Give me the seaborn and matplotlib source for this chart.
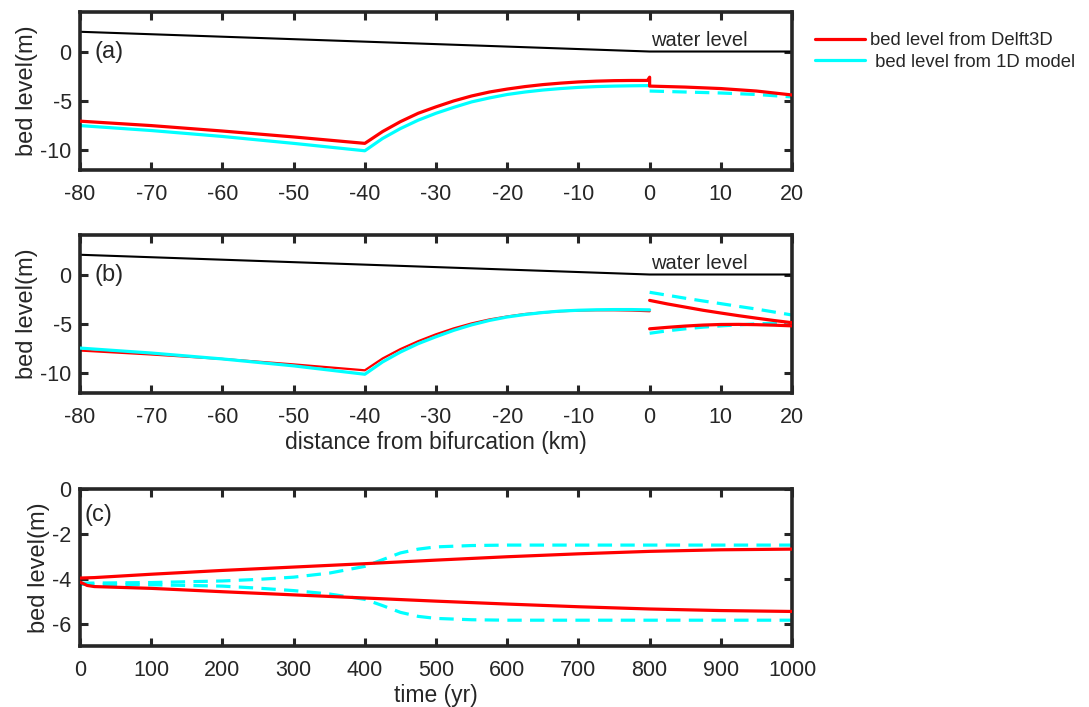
import matplotlib
matplotlib.use("Agg")
import matplotlib.pyplot as plt
import seaborn as sns
import numpy as np
import pandas as pd
from matplotlib.lines import Line2D

# ---------------- data ----------------
# water level (same in a and b)
wl_x = [-80, -60, -40, -20, 0, 10, 20]
wl_y = [2.0, 1.5, 1.0, 0.5, 0.0, 0.0, 0.0]

# panel (a) – Delft3D bed level (main channel + downstream branch with small kink at 0)
a_red_x = [-80, -70, -60, -50, -40, -37.5, -35, -32.5, -30, -27.5, -25, -22.5, -20,
           -17.5, -15, -12.5, -10, -7.5, -5, -2.5, -0.3, 0, 0, 5, 10, 15, 20]
a_red_y = [-7.05, -7.5, -8.05, -8.65, -9.3, -8.1, -7.1, -6.25, -5.6, -5.0, -4.5, -4.1, -3.8,
           -3.55, -3.35, -3.2, -3.08, -3.0, -2.95, -2.93, -2.93, -2.6, -3.5, -3.6, -3.75, -4.0, -4.4]

# panel (a) – 1D model bed level
a_cy_x = [-80, -70, -60, -50, -40, -37.5, -35, -32.5, -30, -27.5, -25, -22.5, -20,
          -17.5, -15, -12.5, -10, -7.5, -5, -2.5, 0]
a_cy_y = [-7.5, -8.0, -8.6, -9.3, -10.05, -8.8, -7.8, -6.95, -6.25, -5.65, -5.1, -4.7, -4.35,
          -4.1, -3.9, -3.75, -3.63, -3.55, -3.5, -3.47, -3.45]
a_cy_br_x = [0, 5, 10, 15, 20]
a_cy_br_y = [-4.0, -4.1, -4.2, -4.35, -4.6]

# panel (b) – main channel
b_red_x = [-80, -70, -60, -50, -40, -37.5, -35, -32.5, -30, -27.5, -25, -22.5, -20,
           -17.5, -15, -12.5, -10, -7.5, -5, -2.5, 0]
b_red_y = [-7.7, -8.1, -8.55, -9.1, -9.7, -8.5, -7.55, -6.75, -6.05, -5.45, -4.95, -4.55, -4.25,
           -4.0, -3.85, -3.72, -3.65, -3.62, -3.62, -3.65, -3.72]
b_cy_x = [-80, -70, -60, -50, -40, -37.5, -35, -32.5, -30, -27.5, -25, -22.5, -20,
          -17.5, -15, -12.5, -10, -7.5, -5, -2.5, 0]
b_cy_y = [-7.45, -7.95, -8.55, -9.25, -10.1, -8.85, -7.85, -7.0, -6.3, -5.65, -5.1, -4.65, -4.3,
          -4.05, -3.85, -3.7, -3.62, -3.57, -3.55, -3.55, -3.58]
# panel (b) – two downstream branches
b_br_x = [0, 2.5, 5, 7.5, 10, 12.5, 15, 17.5, 20]
b_red_up = [-2.62, -2.98, -3.3, -3.62, -3.9, -4.17, -4.42, -4.66, -4.88]
b_red_lo = [-5.5, -5.35, -5.22, -5.12, -5.06, -5.05, -5.08, -5.13, -5.2]
b_cy_up = [-1.8, -2.1, -2.4, -2.68, -2.95, -3.23, -3.5, -3.8, -4.1]
b_cy_lo = [-5.95, -5.7, -5.5, -5.33, -5.2, -5.1, -5.0, -4.93, -4.87]

# panel (c) – time evolution of the branch bed levels
c_red_t = [0, 20, 100, 200, 300, 400, 500, 600, 700, 800, 900, 1000]
c_red_up = [-3.97, -3.95, -3.8, -3.63, -3.48, -3.33, -3.17, -3.02, -2.89, -2.78, -2.71, -2.68]
c_red_lo_t = [0, 10, 20, 100, 200, 300, 400, 500, 600, 700, 800, 900, 1000]
c_red_lo = [-4.15, -4.3, -4.35, -4.43, -4.58, -4.72, -4.86, -5.0, -5.13, -5.25, -5.35, -5.42, -5.46]
c_cy_t = [0, 100, 200, 250, 300, 350, 400, 425, 450, 475, 500, 550, 600, 700, 800, 900, 1000]
c_cy_up = [-4.2, -4.17, -4.1, -4.03, -3.93, -3.75, -3.45, -3.15, -2.85, -2.68, -2.58, -2.52, -2.5, -2.5, -2.5, -2.5, -2.5]
c_cy_lo = [-4.25, -4.27, -4.33, -4.42, -4.53, -4.68, -4.92, -5.2, -5.5, -5.68, -5.77, -5.83, -5.85, -5.85, -5.85, -5.85, -5.85]

# tick labels
x_ticks_ab = [-80, -70, -60, -50, -40, -30, -20, -10, 0, 10, 20]
y_ticks_ab = [-10, -5, 0]
x_ticks_c = [0, 100, 200, 300, 400, 500, 600, 700, 800, 900, 1000]
y_ticks_c = [-6, -4, -2, 0]

# ---------------- style ----------------
sns.set_theme(style="white")
plt.rcParams['font.family'] = ['Liberation Sans', 'DejaVu Sans']
plt.rcParams['axes.unicode_minus'] = False
INK = "#262626"
RED = "#ff0000"
CYAN = "#00ffff"
LW = 2.3
DASH = (4.5, 2.6)

fig = plt.figure(figsize=(10.89, 7.07), dpi=100)
L, W = 0.0735, 0.6538
ax_a = fig.add_axes([L, 0.7595, W, 0.2235])
ax_b = fig.add_axes([L, 0.4441, W, 0.2235])
ax_c = fig.add_axes([L, 0.0863, W, 0.2220])


def line(ax, x, y, color, dashed=False, lw=LW, z=2):
    df = pd.DataFrame({"x": x, "y": y})
    sns.lineplot(data=df, x="x", y="y", ax=ax, color=color, lw=lw, sort=False,
                 estimator=None, legend=False, zorder=z)
    if dashed:
        ax.lines[-1].set_dashes(DASH)


def style(ax, xt, yt, xlim, ylim):
    ax.set_xlim(*xlim)
    ax.set_ylim(*ylim)
    ax.set_xticks(xt)
    ax.set_yticks(yt)
    ax.tick_params(direction="in", top=True, right=True, length=6, width=2.2,
                   color=INK, labelcolor=INK, labelsize=15.5,
                   bottom=True, left=True)
    ax.tick_params(axis="x", pad=10)
    ax.tick_params(axis="y", pad=6)
    for s in ax.spines.values():
        s.set_visible(True)
        s.set_linewidth(2.6)
        s.set_color(INK)
    ax.set_xlabel("")
    ax.set_ylabel("bed level(m)", fontsize=17, color=INK, labelpad=1.5)
    ax.grid(False)


# panel (a)
line(ax_a, wl_x, wl_y, "black", lw=1.5)
line(ax_a, a_cy_x, a_cy_y, CYAN)
line(ax_a, a_cy_br_x, a_cy_br_y, CYAN, dashed=True)
line(ax_a, a_red_x, a_red_y, RED, z=3)
style(ax_a, x_ticks_ab, y_ticks_ab, (-80, 20), (-12, 4))
ax_a.text(-78, 0, "(a)", fontsize=17, va="center", ha="left", color=INK)
ax_a.text(0.2, 0.15, "water level", fontsize=14.5, va="bottom", ha="left", color=INK)

# panel (b)
line(ax_b, wl_x, wl_y, "black", lw=1.5)
line(ax_b, b_red_x, b_red_y, RED, lw=1.6)
line(ax_b, b_cy_x, b_cy_y, CYAN, z=3)
line(ax_b, b_br_x, b_cy_up, CYAN, dashed=True)
line(ax_b, b_br_x, b_cy_lo, CYAN, dashed=True)
line(ax_b, b_br_x, b_red_up, RED, z=3)
line(ax_b, b_br_x, b_red_lo, RED, z=3)
style(ax_b, x_ticks_ab, y_ticks_ab, (-80, 20), (-12, 4))
ax_b.text(-78, 0, "(b)", fontsize=17, va="center", ha="left", color=INK)
ax_b.text(0.2, 0.15, "water level", fontsize=14.5, va="bottom", ha="left", color=INK)
ax_b.set_xlabel("distance from bifurcation (km)", fontsize=16.5, color=INK, labelpad=2)

# panel (c)
line(ax_c, c_cy_t, c_cy_up, CYAN, dashed=True)
line(ax_c, c_cy_t, c_cy_lo, CYAN, dashed=True)
line(ax_c, c_red_t, c_red_up, RED, z=3)
line(ax_c, c_red_lo_t, c_red_lo, RED, z=3)
style(ax_c, x_ticks_c, y_ticks_c, (0, 1000), (-7, 0))
ax_c.text(6, -1.15, "(c)", fontsize=17, va="center", ha="left", color=INK)
ax_c.set_xlabel("time (yr)", fontsize=16.5, color=INK, labelpad=2)

# legend (outside, top right)
handles = [Line2D([], [], color=RED, lw=LW), Line2D([], [], color=CYAN, lw=LW)]
fig.legend(handles, ["bed level from Delft3D", " bed level from 1D model"],
           loc="upper left", bbox_to_anchor=(0.733, 0.978), frameon=False,
           fontsize=13.3, handlelength=2.7, handletextpad=0.3, labelspacing=0.25,
           labelcolor=INK)

fig.savefig("out.png", dpi=100)
